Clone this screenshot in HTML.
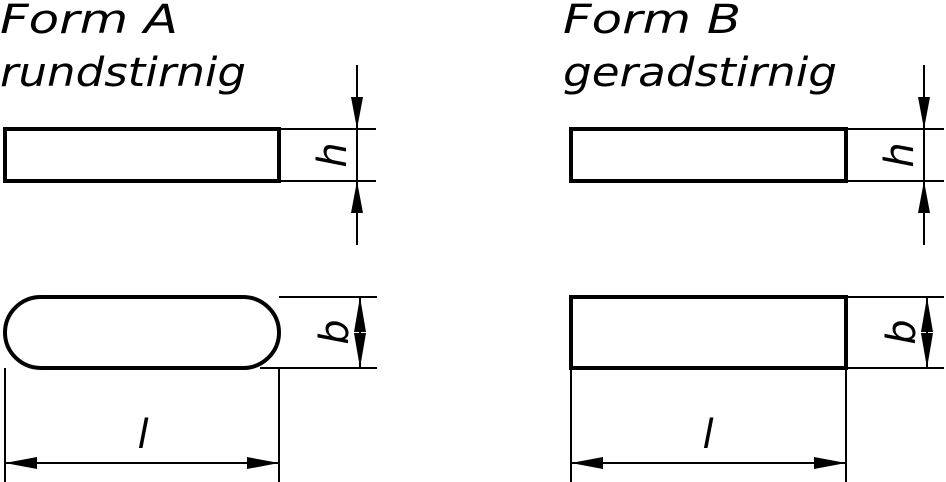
<!DOCTYPE html>
<html><head><style>body{margin:0;background:#fff}svg{display:block}</style></head><body>
<svg width="946" height="482" viewBox="0 0 946 482" xmlns="http://www.w3.org/2000/svg">
<g font-family="DejaVu Sans, Liberation Sans, sans-serif" font-style="italic" font-weight="200" font-size="40" fill="#000">
<text x="0" y="33" textLength="178" lengthAdjust="spacingAndGlyphs">Form  A</text>
<text x="0" y="86" textLength="246" lengthAdjust="spacingAndGlyphs">rundstirnig</text>
<text x="563" y="33" textLength="178" lengthAdjust="spacingAndGlyphs">Form  B</text>
<text x="563" y="86" textLength="274" lengthAdjust="spacingAndGlyphs">geradstirnig</text>
</g>
<g fill="none" stroke="#000">
<rect x="5" y="129" width="274" height="52" stroke-width="4"/>
<rect x="5" y="297" width="274" height="71" rx="36" ry="36" stroke-width="4"/>
<rect x="571" y="129" width="275" height="52" stroke-width="4"/>
<rect x="571" y="297" width="275" height="71" stroke-width="4"/>
<g stroke-width="2">
<path d="M279 129H376M279 181H376M357 65V245M279 297H377M260 368H377M360 297V368M5 368V482M279 368V482M5 463H279"/>
<path d="M846 129H944M846 181H944M924 65V245M846 297H944M846 368H944M927 297V368M571 368V482M846 368V482M571 463H846"/>
</g>
</g>
<g fill="#000">
<path d="M357 129L351 97H363Z M357 181L351 213H363Z M360 297L354 332H366Z M360 368L354 333H366Z M5 463L37 457V469Z M279 463L247 457V469Z"/>
<path d="M924 129L918 97H930Z M924 181L918 213H930Z M927 297L921 332H933Z M927 368L921 333H933Z M571 463L603 457V469Z M846 463L814 457V469Z"/>
</g>
<g font-family="DejaVu Sans, Liberation Sans, sans-serif" font-style="italic" font-weight="200" font-size="40" fill="#000" text-anchor="middle">
<text transform="translate(332,155) rotate(-90)" dy="0.35em">h</text>
<text transform="translate(334,332) rotate(-90)" dy="0.35em">b</text>
<text transform="translate(899,155) rotate(-90)" dy="0.35em">h</text>
<text transform="translate(901,332) rotate(-90)" dy="0.35em">b</text>
<text x="143" y="448">l</text>
<text x="708" y="448">l</text>
</g>
</svg>
</body></html>
